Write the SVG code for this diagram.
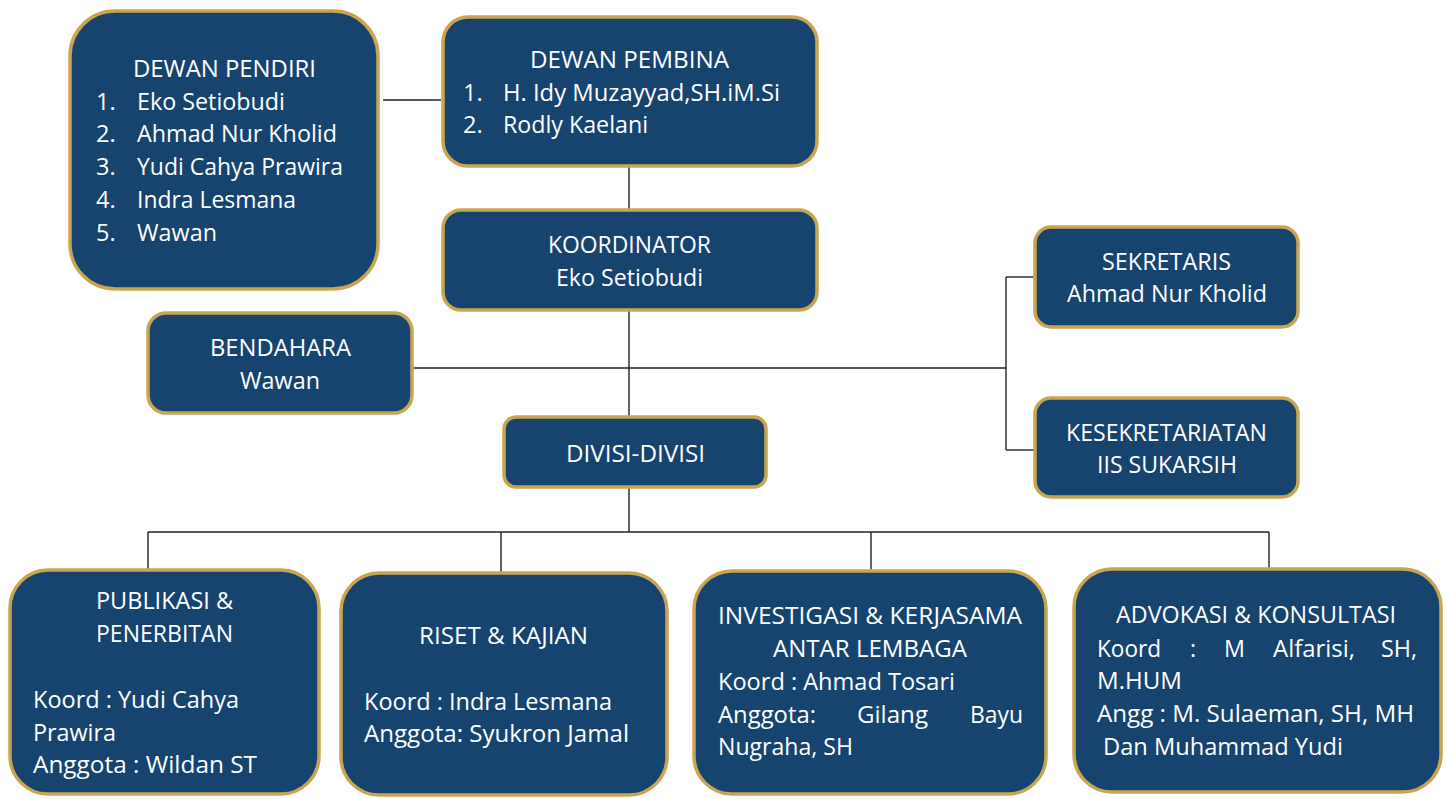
<svg xmlns="http://www.w3.org/2000/svg" width="1447" height="799" viewBox="0 0 1447 799">
<style>
.box{fill:#17446F;stroke:#C9A551;stroke-width:3.5}
.t{fill:#FFFFFF;font-family:"Open Sans","Noto Sans",sans-serif;font-size:23.5px}
.b{fill:#FFFFFF;font-family:"Open Sans","Noto Sans",sans-serif;font-size:23px}
.ln{stroke:#222;stroke-width:1.4;fill:none}
</style>
<rect width="1447" height="799" fill="#FFFFFF"/>
<g id="connectors">
<path class="ln" d="M383 100H441"/>
<path class="ln" d="M629 166V210"/>
<path class="ln" d="M629 310V417"/>
<path class="ln" d="M413 368H1006"/>
<path class="ln" d="M1006 277V450"/>
<path class="ln" d="M1006 277H1035"/>
<path class="ln" d="M1006 450H1035"/>
<path class="ln" d="M629 487V532"/>
<path class="ln" d="M148 532H1269"/>
<path class="ln" d="M148 532V570"/>
<path class="ln" d="M501 532V573"/>
<path class="ln" d="M871 532V571"/>
<path class="ln" d="M1269 532V569"/>
</g>
<g id="dewan-pendiri">
<rect class="box" x="70" y="11" width="308" height="278" rx="45"/>
<text class="t" x="133" y="77" textLength="183" lengthAdjust="spacingAndGlyphs">DEWAN PENDIRI</text>
<text class="t" x="96" y="110">1.</text><text class="t" x="137" y="110" textLength="148" lengthAdjust="spacingAndGlyphs">Eko Setiobudi</text>
<text class="t" x="96" y="142">2.</text><text class="t" x="137" y="142" textLength="200" lengthAdjust="spacingAndGlyphs">Ahmad Nur Kholid</text>
<text class="t" x="96" y="175">3.</text><text class="t" x="137" y="175" textLength="206" lengthAdjust="spacingAndGlyphs">Yudi Cahya Prawira</text>
<text class="t" x="96" y="208">4.</text><text class="t" x="137" y="208" textLength="159" lengthAdjust="spacingAndGlyphs">Indra Lesmana</text>
<text class="t" x="96" y="241">5.</text><text class="t" x="137" y="241" textLength="80" lengthAdjust="spacingAndGlyphs">Wawan</text>
</g>
<g id="dewan-pembina">
<rect class="box" x="443" y="17" width="374" height="149" rx="25"/>
<text class="t" x="530" y="68" textLength="199" lengthAdjust="spacingAndGlyphs">DEWAN PEMBINA</text>
<text class="t" x="463" y="101">1.</text><text class="t" x="503" y="101" textLength="277" lengthAdjust="spacingAndGlyphs">H. Idy Muzayyad,SH.iM.Si</text>
<text class="t" x="463" y="133">2.</text><text class="t" x="503" y="133" textLength="145" lengthAdjust="spacingAndGlyphs">Rodly Kaelani</text>
</g>
<g id="koordinator">
<rect class="box" x="443" y="210" width="374" height="100" rx="18"/>
<text class="t" x="548" y="253" textLength="163" lengthAdjust="spacingAndGlyphs">KOORDINATOR</text>
<text class="t" x="556" y="286" textLength="147" lengthAdjust="spacingAndGlyphs">Eko Setiobudi</text>
</g>
<g id="bendahara">
<rect class="box" x="148" y="313" width="264" height="100" rx="18"/>
<text class="t" x="210" y="356" textLength="141" lengthAdjust="spacingAndGlyphs">BENDAHARA</text>
<text class="t" x="240" y="389" textLength="80" lengthAdjust="spacingAndGlyphs">Wawan</text>
</g>
<g id="sekretaris">
<rect class="box" x="1035" y="227" width="263" height="100" rx="16"/>
<text class="t" x="1102" y="270" textLength="129" lengthAdjust="spacingAndGlyphs">SEKRETARIS</text>
<text class="t" x="1067" y="302" textLength="200" lengthAdjust="spacingAndGlyphs">Ahmad Nur Kholid</text>
</g>
<g id="kesekretariatan">
<rect class="box" x="1035" y="398" width="263" height="99" rx="16"/>
<text class="t" x="1066" y="441" textLength="201" lengthAdjust="spacingAndGlyphs">KESEKRETARIATAN</text>
<text class="t" x="1097" y="473" textLength="140" lengthAdjust="spacingAndGlyphs">IIS SUKARSIH</text>
</g>
<g id="divisi-divisi">
<rect class="box" x="504" y="417" width="262" height="70" rx="12"/>
<text class="t" x="566" y="462" textLength="139" lengthAdjust="spacingAndGlyphs">DIVISI-DIVISI</text>
</g>
<g id="publikasi">
<rect class="box" x="10" y="570" width="309" height="224" rx="38"/>
<text class="b" x="96" y="609" textLength="137" lengthAdjust="spacingAndGlyphs">PUBLIKASI &amp;</text>
<text class="b" x="96" y="642" textLength="137" lengthAdjust="spacingAndGlyphs">PENERBITAN</text>
<text class="b" x="33" y="708" textLength="206" lengthAdjust="spacingAndGlyphs">Koord : Yudi Cahya</text>
<text class="b" x="33" y="741" textLength="83" lengthAdjust="spacingAndGlyphs">Prawira</text>
<text class="b" x="33" y="773" textLength="224" lengthAdjust="spacingAndGlyphs">Anggota : Wildan ST</text>
</g>
<g id="riset">
<rect class="box" x="341" y="573" width="326" height="222" rx="38"/>
<text class="b" x="419" y="644" textLength="169" lengthAdjust="spacingAndGlyphs">RISET &amp; KAJIAN</text>
<text class="b" x="364" y="710" textLength="248" lengthAdjust="spacingAndGlyphs">Koord : Indra Lesmana</text>
<text class="b" x="364" y="742" textLength="265" lengthAdjust="spacingAndGlyphs">Anggota: Syukron Jamal</text>
</g>
<g id="investigasi">
<rect class="box" x="694" y="571" width="352" height="223" rx="38"/>
<text class="b" x="718" y="624" textLength="304" lengthAdjust="spacingAndGlyphs">INVESTIGASI &amp; KERJASAMA</text>
<text class="b" x="773" y="657" textLength="194" lengthAdjust="spacingAndGlyphs">ANTAR LEMBAGA</text>
<text class="b" x="718" y="690" textLength="237" lengthAdjust="spacingAndGlyphs">Koord : Ahmad Tosari</text>
<text class="b" x="718" y="723" textLength="98" lengthAdjust="spacingAndGlyphs">Anggota:</text>
<text class="b" x="857" y="723" textLength="71" lengthAdjust="spacingAndGlyphs">Gilang</text>
<text class="b" x="970" y="723" textLength="53" lengthAdjust="spacingAndGlyphs">Bayu</text>
<text class="b" x="718" y="755" textLength="135" lengthAdjust="spacingAndGlyphs">Nugraha, SH</text>
</g>
<g id="advokasi">
<rect class="box" x="1074" y="569" width="367" height="223" rx="38"/>
<text class="b" x="1116" y="623" textLength="280" lengthAdjust="spacingAndGlyphs">ADVOKASI &amp; KONSULTASI</text>
<text class="b" x="1097" y="657" textLength="64" lengthAdjust="spacingAndGlyphs">Koord</text>
<text class="b" x="1190" y="657">:</text>
<text class="b" x="1224" y="657" textLength="21" lengthAdjust="spacingAndGlyphs">M</text>
<text class="b" x="1273" y="657" textLength="82" lengthAdjust="spacingAndGlyphs">Alfarisi,</text>
<text class="b" x="1381" y="657" textLength="36" lengthAdjust="spacingAndGlyphs">SH,</text>
<text class="b" x="1097" y="689" textLength="85" lengthAdjust="spacingAndGlyphs">M.HUM</text>
<text class="b" x="1097" y="722" textLength="317" lengthAdjust="spacingAndGlyphs">Angg : M. Sulaeman, SH, MH</text>
<text class="b" x="1103" y="755" textLength="240" lengthAdjust="spacingAndGlyphs">Dan Muhammad Yudi</text>
</g>
</svg>
